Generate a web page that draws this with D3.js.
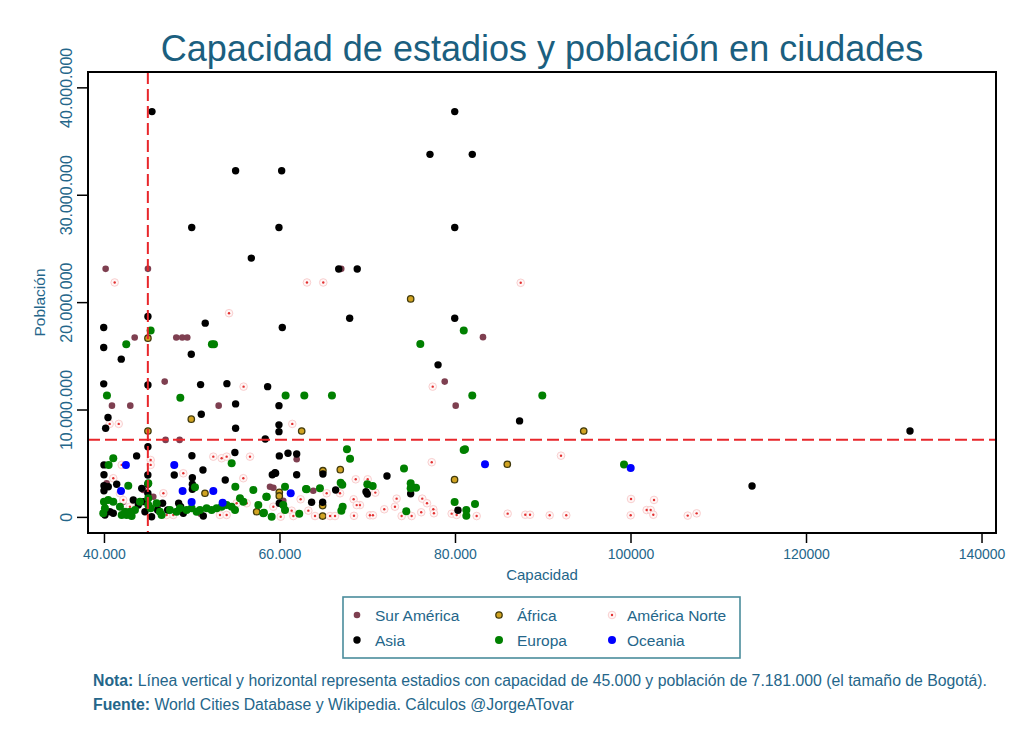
<!DOCTYPE html>
<html>
<head>
<meta charset="utf-8">
<script src="https://cdn.jsdelivr.net/npm/d3@7"></script>
<style>
  body { margin: 0; background: #fff; }
  text { font-family: "Liberation Sans", Arial, sans-serif; }
</style>
</head>
<body>
<div id="chart"></div>
<script>
// [capacidad, población en millones]
let surAmerica = [
  [40190, 23.1], [45010, 23.1], [67040, 23.1], [43500, 16.7], [48240, 16.7], [48920, 16.7],
  [49490, 16.7], [83190, 16.74], [46920, 12.6], [78830, 12.6], [40910, 10.36], [43000, 10.36],
  [53070, 10.36], [80080, 10.36], [47020, 7.17], [48620, 7.17], [61960, 5.37], [63850, 2.44],
  [59300, 2.72], [60430, 1.51], [44480, 2.5], [40300, 3.13], [42200, 1.42], [58920, 2.81],
  [45620, 1.88], [46100, 1.0], [51000, 0.3]
]

let africa = [
  [74950, 20.3], [45010, 16.64], [49950, 9.1], [45010, 8.0], [62530, 8.0], [94670, 8.0],
  [85960, 4.9], [64950, 4.3], [66930, 4.4], [79950, 3.47], [59980, 2.29], [59980, 1.95],
  [64920, 1.05], [64920, 0.08], [51510, 2.2], [57400, 0.48], [47800, 0.3]
]

let americaNorte = [
  [41220, 21.83], [63130, 21.83], [64990, 21.83], [87490, 21.8], [54250, 18.97], [55910, 12.13],
  [77460, 12.13], [40650, 8.66], [41680, 8.66], [61460, 8.66], [92080, 5.7], [77350, 5.09],
  [100060, 1.67], [102680, 1.58], [101840, 0.64], [102300, 0.64], [102600, 0.2], [100020, 0.15],
  [86000, 0.3], [88010, 0.2], [88550, 0.2], [90790, 0.15], [92680, 0.15], [106520, 0.12],
  [107540, 0.33], [68690, 3.5], [70050, 3.5], [73350, 1.7], [73160, 0.95], [71940, 0.71],
  [76270, 1.7], [76810, 1.27], [77530, 0.71], [77600, 0.34], [76150, 0.43], [79620, 0.3],
  [80190, 0.18], [82470, 0.08], [73920, 0.08], [75060, 0.08], [70310, 0.15], [70650, 0.15],
  [68490, 0.1], [69170, 1.1], [68450, 1.64], [70920, 2.26], [60140, 0.02], [61390, 0.58],
  [61580, 0.08], [63290, 0.58], [64050, 0.08], [65760, 0.08], [66330, 0.08], [66900, 2.2],
  [62410, 1.64], [65380, 2.2], [68800, 1.1], [42020, 4.84], [45320, 5.3], [45320, 4.84],
  [41060, 3.6], [42200, 1.57], [46770, 2.2], [49040, 4.06], [52460, 5.61], [53410, 5.46],
  [53980, 5.61], [56640, 5.61], [55880, 3.6], [59300, 0.95], [55120, 1.27], [56260, 1.27],
  [53220, 0.18], [53980, 0.18], [47140, 0.18], [47900, 0.18], [41820, 2.2], [42960, 0.95]
]

let asia = [
  [45470, 37.74], [79970, 37.74], [77150, 33.76], [81970, 33.76], [55000, 32.24], [60250, 32.24],
  [50000, 26.95], [59940, 26.95], [79970, 26.95], [56790, 24.1], [66750, 23.08], [68860, 23.08],
  [45010, 18.66], [68000, 18.5], [79970, 18.5], [39970, 17.63], [51540, 18.04], [60320, 17.63],
  [39970, 15.77], [49950, 15.15], [41970, 14.69], [78070, 14.16], [39970, 12.39], [45010, 12.29],
  [51010, 12.32], [54010, 12.41], [58650, 12.13], [55000, 10.52], [59940, 10.36], [51090, 9.56],
  [40460, 9.25], [87360, 8.94], [40190, 8.26], [55000, 8.26], [59940, 8.57], [59940, 7.94],
  [131850, 8.0], [58380, 7.26], [45010, 6.54], [113850, 2.88], [59980, 5.68], [60970, 5.93],
  [61960, 5.86], [59490, 4.12], [59180, 3.93], [61960, 3.93], [64950, 4.0], [72250, 3.81],
  [74950, 2.16], [80340, 0.62], [69860, 2.35], [70010, 2.13], [66400, 2.5], [63660, 1.36],
  [64920, 1.36], [59980, 1.27], [43720, 5.68], [40000, 4.84], [40000, 3.93], [41450, 3.04],
  [40000, 2.91], [40000, 2.44], [40490, 2.81], [45000, 3.04], [45000, 2.2], [44300, 2.66],
  [46680, 1.27], [46110, 0.64], [47260, 0.64], [48510, 1.27], [48740, 0.95], [49040, 0.34],
  [51320, 0.08], [48010, 3.9], [50020, 5.7], [50070, 3.65], [50070, 3.04], [50070, 2.57],
  [51280, 4.37], [53820, 3.44], [54920, 6.0], [59560, 4.06], [40680, 0.48], [40110, 0.18],
  [41060, 0.34], [44480, 1.42], [44670, 0.48], [45430, 0.02], [43340, 1.57], [43910, 1.1],
  [45000, 3.9]
]

let europa = [
  [45320, 17.35], [42540, 16.08], [52540, 16.08], [52300, 16.08], [81000, 17.35], [76050, 16.1],
  [40340, 11.3], [48700, 11.1], [60700, 11.3], [62830, 11.3], [65980, 11.3], [81970, 11.3],
  [89950, 11.3], [67690, 6.3], [81140, 6.3], [68040, 5.42], [70010, 3.04], [70620, 2.88],
  [74190, 4.5], [74950, 3.13], [74950, 2.66], [75560, 2.72], [80990, 6.23], [74450, 0.52],
  [79960, 1.39], [82280, 1.2], [81290, 0.64], [81290, 0.11], [67160, 3.0], [66970, 3.19],
  [64610, 2.66], [63020, 2.6], [67200, 0.95], [67050, 0.58], [58500, 1.88], [60630, 2.81],
  [60430, 1.1], [60630, 0.64], [58230, 0.39], [59110, 0.02], [62250, 0.3], [63090, 2.57],
  [99260, 4.87], [41060, 5.46], [40530, 4.84], [42770, 2.91], [40000, 1.42], [40490, 1.57],
  [41060, 1.42], [41820, 0.95], [42390, 0.48], [42960, 0.48], [43530, 0.64], [42020, 0.18],
  [44100, 1.42], [45050, 1.73], [45050, 1.1], [45320, 0.8], [45050, 3.13], [46000, 1.27],
  [47520, 0.64], [48280, 0.48], [48660, 0.8], [49420, 0.64], [49990, 0.8], [50560, 0.48],
  [50940, 0.64], [51700, 0.8], [52270, 0.64], [52840, 0.8], [53410, 0.95], [53980, 1.1],
  [54550, 0.95], [54930, 0.64], [55500, 1.73], [55880, 1.42], [54970, 2.81], [57020, 2.5],
  [57590, 1.1], [58160, 0.34], [58540, 1.88], [50370, 2.76], [54550, 5.0], [46380, 0.48],
  [46570, 0.18], [42580, 0.18], [43150, 0.08], [39920, 0.34], [40110, 0.8]
]

let oceania = [
  [83420, 4.9], [100020, 4.56], [42500, 4.84], [48010, 4.84], [48960, 2.41], [49990, 1.39],
  [52460, 2.41], [53520, 1.32], [41940, 2.41], [61280, 2.2]
]

let xTicks = [40000, 60000, 80000, 100000, 120000, 140000]
let xTickLabels = ['40.000', '60.000', '80.000', '100000', '120000', '140000']
let yTicks = [0, 10, 20, 30, 40]
let yTickLabels = ['0', '10.000.000', '20.000.000', '30.000.000', '40.000.000']

let refCapacidad = 45000
let refPoblacion = 7.181

let series = [
  { name: 'Sur América', data: surAmerica, kind: 'dot', r: 3.3, fill: '#7e3f50' },
  { name: 'África', data: africa, kind: 'ring', r: 3.2, fill: '#d1a322', stroke: '#413a0c' },
  { name: 'América Norte', data: americaNorte, kind: 'na' },
  { name: 'Asia', data: asia, kind: 'dot', r: 3.7, fill: '#000' },
  { name: 'Europa', data: europa, kind: 'dot', r: 4, fill: '#008000' },
  { name: 'Oceania', data: oceania, kind: 'dot', r: 4, fill: '#0000ff' }
]

let textColor = '#24668a'
let titleColor = '#1b5f7f'

let margin = { top: 72, left: 88, right: 28, bottom: 211 }
let width = 1024 - margin.left - margin.right
let height = 744 - margin.top - margin.bottom

let root = d3
  .select('#chart')
  .append('svg')
  .attr('width', 1024)
  .attr('height', 744)

let svg = root
  .append('g')
  .attr('transform', 'translate(' + margin.left + ',' + margin.top + ')')

let x = d3.scaleLinear().domain([38180, 141650]).range([0, width])
let y = d3.scaleLinear().domain([-1.5, 41.43]).range([height, 0])

// title
root
  .append('text')
  .attr('x', margin.left + width / 2)
  .attr('y', 61)
  .attr('text-anchor', 'middle')
  .attr('font-size', 36)
  .attr('fill', titleColor)
  .text('Capacidad de estadios y población en ciudades')

// axes
let xAxis = d3
  .axisBottom(x)
  .tickValues(xTicks)
  .tickFormat((d, i) => xTickLabels[i])
  .tickSize(10)
  .tickPadding(6)

let gx = svg
  .append('g')
  .attr('transform', 'translate(0,' + height + ')')
  .call(xAxis)
gx.select('.domain').remove()
gx.selectAll('line').attr('stroke', '#000').attr('stroke-width', 1.5)
gx.selectAll('text')
  .attr('font-size', 14)
  .attr('fill', textColor)
  .attr('font-family', '"Liberation Sans", Arial, sans-serif')

let yAxis = d3
  .axisLeft(y)
  .tickValues(yTicks)
  .tickFormat((d, i) => yTickLabels[i])
  .tickSize(11)

let gy = svg.append('g').call(yAxis)
gy.select('.domain').remove()
gy.selectAll('line').attr('stroke', '#000').attr('stroke-width', 1.5)
gy.selectAll('text')
  .attr('font-size', 16)
  .attr('fill', textColor)
  .attr('font-family', '"Liberation Sans", Arial, sans-serif')
  .attr('text-anchor', 'middle')
  .attr('transform', 'rotate(-90)')
  .attr('x', 0)
  .attr('y', -16)
  .attr('dy', 0)

svg
  .append('text')
  .attr('x', width / 2)
  .attr('y', height + 47)
  .attr('text-anchor', 'middle')
  .attr('font-size', 15)
  .attr('fill', textColor)
  .text('Capacidad')

svg
  .append('text')
  .attr('transform', 'translate(-43,' + height / 2 + ') rotate(-90)')
  .attr('text-anchor', 'middle')
  .attr('font-size', 15.5)
  .attr('fill', textColor)
  .text('Población')

// points
svg
  .append('clipPath')
  .attr('id', 'plot-clip')
  .append('rect')
  .attr('width', width)
  .attr('height', height)

let plot = svg.append('g').attr('clip-path', 'url(#plot-clip)')

function drawMarks(g, s, data) {
  if (s.kind === 'na') {
    g.selectAll('.outer')
      .data(data)
      .enter()
      .append('circle')
      .attr('class', 'outer')
      .attr('cx', d => d.cx)
      .attr('cy', d => d.cy)
      .attr('r', 3.8)
      .attr('fill', '#fff6f6')
      .attr('stroke', '#f9cfcf')
      .attr('stroke-width', 1)
    g.selectAll('.inner')
      .data(data)
      .enter()
      .append('circle')
      .attr('class', 'inner')
      .attr('cx', d => d.cx)
      .attr('cy', d => d.cy)
      .attr('r', 1.2)
      .attr('fill', '#e23030')
  } else {
    g.selectAll('circle')
      .data(data)
      .enter()
      .append('circle')
      .attr('cx', d => d.cx)
      .attr('cy', d => d.cy)
      .attr('r', s.r)
      .attr('fill', s.fill)
      .attr('stroke', s.kind === 'ring' ? s.stroke : 'none')
      .attr('stroke-width', s.kind === 'ring' ? 1.3 : 0)
  }
}

series.forEach(s => {
  let pts = s.data.map(d => ({ cx: x(d[0]), cy: y(d[1]) }))
  drawMarks(plot.append('g'), s, pts)
})

// reference lines
svg
  .append('line')
  .attr('x1', x(refCapacidad))
  .attr('x2', x(refCapacidad))
  .attr('y1', 0)
  .attr('y2', height)
  .attr('stroke', '#e8262b')
  .attr('stroke-width', 2)
  .attr('stroke-dasharray', '12,5')

svg
  .append('line')
  .attr('x1', 0)
  .attr('x2', width)
  .attr('y1', y(refPoblacion))
  .attr('y2', y(refPoblacion))
  .attr('stroke', '#e8262b')
  .attr('stroke-width', 2)
  .attr('stroke-dasharray', '12,5')

// frame
svg
  .append('rect')
  .attr('width', width)
  .attr('height', height)
  .attr('fill', 'none')
  .attr('stroke', '#000')
  .attr('stroke-width', 2)

// legend
let legend = root.append('g').attr('transform', 'translate(343,597)')
legend
  .append('rect')
  .attr('width', 397)
  .attr('height', 61)
  .attr('fill', '#fff')
  .attr('stroke', '#4a8c9c')
  .attr('stroke-width', 1.6)

let colX = [14, 156, 269]
series.forEach((s, i) => {
  let cx = colX[i % 3]
  let cy = i < 3 ? 18 : 43
  let item = legend.append('g')
  drawMarks(item, s, [{ cx: cx, cy: cy }])
  item
    .append('text')
    .attr('x', cx + (i % 3 === 2 ? 15 : 18))
    .attr('y', cy + 5.5)
    .attr('font-size', 15.5)
    .attr('fill', textColor)
    .text(s.name)
})

// notes
let nota = root
  .append('text')
  .attr('x', 93)
  .attr('y', 686)
  .attr('font-size', 15.8)
  .attr('fill', textColor)
nota.append('tspan').attr('font-weight', 'bold').text('Nota:')
nota
  .append('tspan')
  .text(' Línea vertical y horizontal representa estadios con capacidad de 45.000 y población de 7.181.000 (el tamaño de Bogotá).')

let fuente = root
  .append('text')
  .attr('x', 93)
  .attr('y', 710)
  .attr('font-size', 15.8)
  .attr('fill', textColor)
fuente.append('tspan').attr('font-weight', 'bold').text('Fuente:')
fuente.append('tspan').text(' World Cities Database y Wikipedia. Cálculos @JorgeATovar')
</script>
</body>
</html>
